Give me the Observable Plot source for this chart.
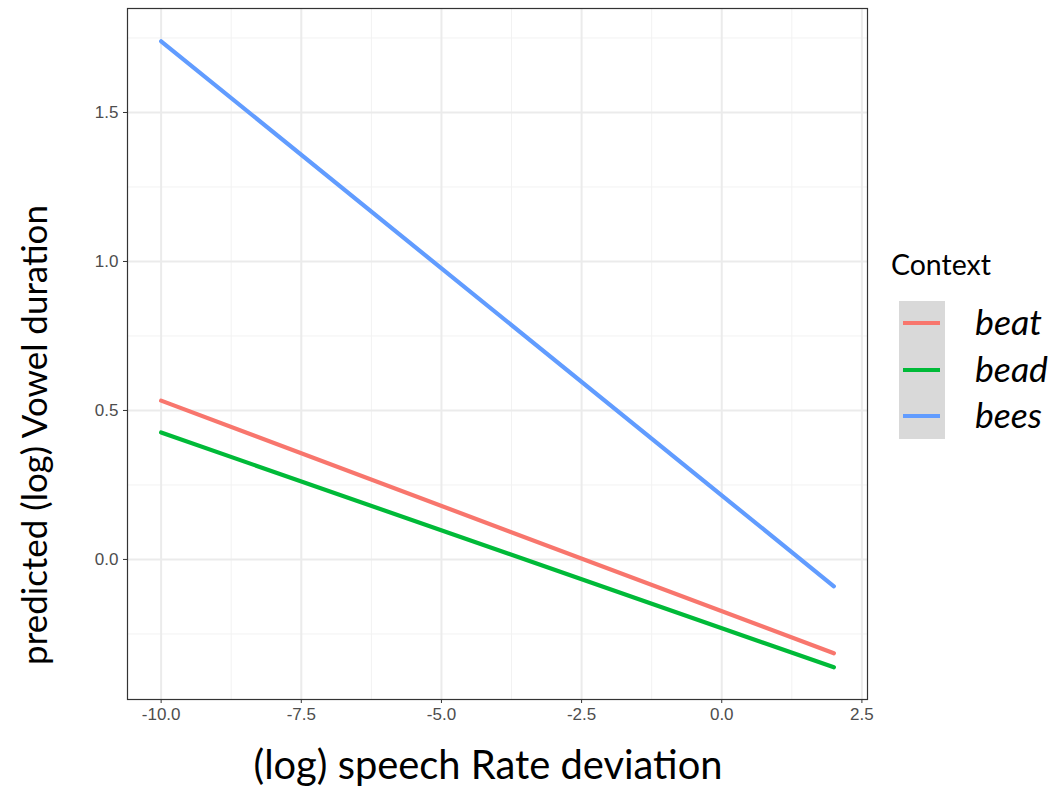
<!DOCTYPE html>
<html><head><meta charset="utf-8">
<script src="https://cdn.jsdelivr.net/npm/d3@7"></script>
<script src="https://cdn.jsdelivr.net/npm/@observablehq/plot@0.6"></script>
<style>body{margin:0;background:#fff}</style>
</head><body><div id="chart"></div>
<script>
const contexts = ["beat", "bead", "bees"];
const colors = ["#F8766D", "#00BA38", "#619CFF"];
const rateX = [-10, 2];
const beatY = [0.533, -0.315];
const beadY = [0.426, -0.362];
const beesY = [1.739, -0.090];
const xTicks = [-10, -7.5, -5, -2.5, 0, 2.5];
const xMinor = [-8.75, -6.25, -3.75, -1.25, 1.25];
const yTicks = [0, 0.5, 1.0, 1.5];
const yMinor = [-0.25, 0.25, 0.75, 1.25, 1.75];

const series = [beatY, beadY, beesY];
const data = [];
contexts.forEach((c, i) => rateX.forEach((x, j) => data.push({context: c, x, y: series[i][j]})));

const W = 1064, H = 788;
const fmt = d => d.toFixed(1);
const plot = Plot.plot({
  width: W, height: H,
  marginLeft: 127, marginRight: 197, marginTop: 8, marginBottom: 89,
  x: {domain: [-10.6, 2.6]},
  y: {domain: [-0.47, 1.849]},
  color: {domain: contexts, range: colors},
  style: {background: "#fff"},
  marks: [
    Plot.ruleX(xMinor, {stroke: "#f2f2f2", strokeWidth: 1}),
    Plot.ruleY(yMinor, {stroke: "#f2f2f2", strokeWidth: 1}),
    Plot.ruleX(xTicks, {stroke: "#ebebeb", strokeWidth: 2}),
    Plot.ruleY(yTicks, {stroke: "#ebebeb", strokeWidth: 2}),
    Plot.line(data, {x: "x", y: "y", stroke: "context", z: "context", strokeWidth: 4.2}),
    Plot.frame({stroke: "#333", strokeWidth: 1.2}),
    Plot.axisX({ticks: xTicks, tickFormat: () => "", tickSize: 4, label: null, stroke: "#333"}),
    Plot.axisY({ticks: yTicks, tickFormat: () => "", tickSize: 4, label: null, stroke: "#333"}),
    Plot.text(xTicks, {x: d => d, frameAnchor: "bottom", dy: 20, text: fmt, fontSize: 17, fill: "#4d4d4d", fontFamily: "Liberation Sans"}),
    Plot.text(yTicks, {y: d => d, frameAnchor: "left", dx: -9, textAnchor: "end", text: fmt, fontSize: 17, fill: "#4d4d4d", fontFamily: "Liberation Sans"})
  ]
});
document.getElementById("chart").appendChild(plot);
const svg = d3.select(plot);

function fitText(sel, target, fs) {
  sel.attr("font-size", fs);
  const w = sel.node().getComputedTextLength();
  sel.attr("font-size", fs * target / w);
}
const font = "Lato, 'Open Sans', sans-serif";
const xt = svg.append("text").attr("x", 488).attr("y", 779).attr("text-anchor", "middle")
  .attr("font-family", font).attr("fill", "#000").text("(log) speech Rate deviation");
fitText(xt, 469, 36);
const yt = svg.append("text").attr("transform", "translate(47,435) rotate(-90)").attr("text-anchor", "middle")
  .attr("font-family", font).attr("fill", "#000").text("predicted (log) Vowel duration");
fitText(yt, 460, 28);

const lg = svg.append("g").attr("text-anchor", "start");
const ct = lg.append("text").attr("x", 891).attr("y", 275).attr("font-family", font).attr("fill", "#000").text("Context");
fitText(ct, 100, 22);
lg.append("rect").attr("x", 899).attr("y", 301).attr("width", 46).attr("height", 138).attr("fill", "#d9d9d9");
const color = plot.scale("color");
const ys = [323, 370, 416];
contexts.forEach((c, i) => {
  lg.append("line").attr("x1", 903).attr("x2", 940).attr("y1", ys[i]).attr("y2", ys[i])
    .attr("stroke", color.apply(c)).attr("stroke-width", 4);
  const t = lg.append("text").attr("x", 975).attr("y", ys[i] + 12).attr("font-family", font)
    .attr("font-style", "italic").attr("fill", "#000").text(c);
  fitText(t, c === "bead" ? 73 : 67, 30);
});
</script></body></html>
